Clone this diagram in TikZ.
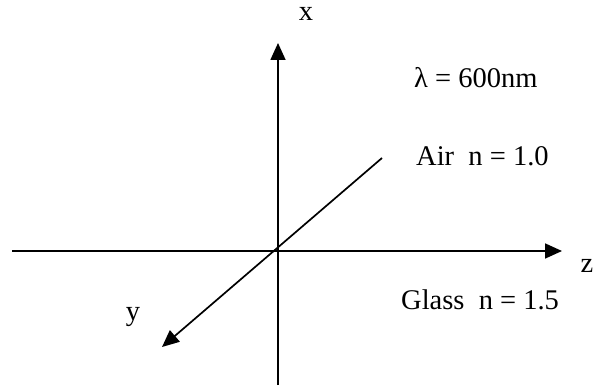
\documentclass[tikz,border=0pt]{standalone}
\usepackage{fontspec}
\setmainfont{Liberation Serif}
\usetikzlibrary{arrows.meta}
\begin{document}
\begin{tikzpicture}[x=1pt,y=-1pt,
  axis/.style={line width=1.7pt,-{Triangle[length=17pt,width=15pt]}},
  lbl/.style={font=\fontsize{28.5}{32}\selectfont,inner sep=0pt}]
\useasboundingbox (0,0) rectangle (597,387);
\coordinate (O) at (278,251);
\coordinate (xb) at (278,385);
\coordinate (xt) at (278,43);
\coordinate (zl) at (12,251);
\coordinate (zr) at (562,251);
\coordinate (yu) at (382,158);
\coordinate (yd) at (162,347);
\draw[axis] (xb) -- (xt);
\draw[axis] (zl) -- (zr);
\draw[axis] (yu) -- (yd);
\node[lbl,anchor=base] (xl) at (306,21) {x};
\node[lbl,anchor=base] (zlab) at (587,273) {z};
\node[lbl,anchor=base] (ylab) at (133,320) {y};
\node[lbl,anchor=base west] (lam) at (414,88) {λ = 600nm};
\node[lbl,anchor=base west] (air) at (416,166) {Air\ \ n = 1.0};
\node[lbl,anchor=base west] (glass) at (401,309) {Glass\ \ n = 1.5};
\end{tikzpicture}
\end{document}
